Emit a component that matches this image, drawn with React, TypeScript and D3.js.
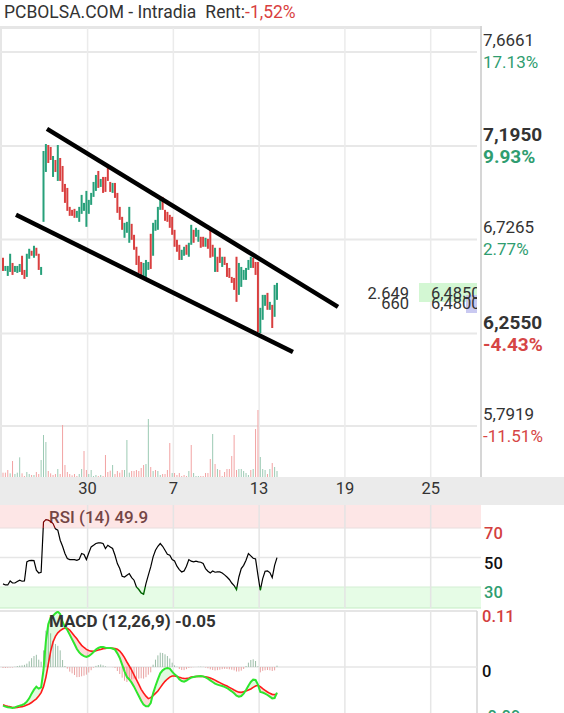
import React from 'react';
import * as d3 from 'd3';

const W = 564;
const H = 713;

// ---- price series (one bar per slot) ----
const opens = [
  6.635, 6.569, 6.544, 6.564, 6.609, 6.564, 6.559, 6.564, 6.645, 6.574,
  6.539, 6.630, 6.670, 6.635, 6.685, 6.655, 6.549, 6.815, 7.065, 7.200,
  7.190, 7.040, 7.125, 7.020, 7.135, 7.095, 7.005, 6.985, 6.890, 6.875,
  6.880, 6.835, 6.815, 6.855, 6.870, 6.790, 6.855, 6.900, 6.940, 6.970,
  7.070, 6.990, 7.040, 7.040, 7.105, 7.015, 6.960, 7.010, 6.960, 6.890,
  6.840, 6.735, 6.760, 6.710, 6.805, 6.750, 6.690, 6.645, 6.614, 6.534,
  6.539, 6.574, 6.755, 6.645, 6.770, 6.775, 6.875, 6.940, 6.875, 6.865,
  6.850, 6.840, 6.775, 6.725, 6.700, 6.624, 6.645, 6.700, 6.640, 6.700,
  6.775, 6.740, 6.715, 6.740, 6.740, 6.690, 6.730, 6.775, 6.700, 6.564,
  6.640, 6.685, 6.589, 6.640, 6.609, 6.584, 6.539, 6.534, 6.640, 6.449,
  6.489, 6.524, 6.524, 6.574, 6.584, 6.635, 6.614, 6.614, 6.258, 6.324,
  6.394, 6.459, 6.374, 6.399, 6.339, 6.424,
];
const closes = [
  6.569, 6.594, 6.594, 6.655, 6.549, 6.594, 6.594, 6.604, 6.549, 6.529,
  6.655, 6.680, 6.645, 6.695, 6.645, 6.574, 6.589, 7.170, 7.205, 7.110,
  7.125, 7.145, 7.065, 7.200, 7.020, 6.965, 6.910, 6.870, 6.845, 6.845,
  6.835, 6.870, 6.890, 6.950, 6.910, 6.970, 6.925, 6.960, 7.015, 7.050,
  6.985, 7.030, 6.960, 6.965, 7.020, 6.965, 7.010, 6.935, 6.860, 6.825,
  6.775, 6.810, 6.815, 6.890, 6.725, 6.675, 6.599, 6.559, 6.539, 6.609,
  6.624, 6.614, 6.579, 6.810, 6.825, 6.890, 6.925, 6.875, 6.820, 6.815,
  6.785, 6.750, 6.690, 6.665, 6.624, 6.675, 6.690, 6.650, 6.710, 6.800,
  6.710, 6.785, 6.775, 6.685, 6.690, 6.735, 6.680, 6.635, 6.640, 6.685,
  6.564, 6.609, 6.640, 6.599, 6.539, 6.534, 6.509, 6.474, 6.414, 6.609,
  6.589, 6.574, 6.584, 6.624, 6.640, 6.584, 6.549, 6.263, 6.384, 6.449,
  6.449, 6.374, 6.414, 6.283, 6.499, 6.509,
];

// ---- volume ----
const volumes = [
  1300, 1300, 2100, 1100, 4800, 900, 1300, 5900, 1100, 300,
  1500, 900, 600, 600, 1500, 900, 5100, 12600, 10500, 1800,
  1100, 600, 900, 2400, 900, 15600, 3600, 1500, 900, 500,
  900, 300, 900, 2400, 7800, 2100, 900, 2100, 300, 600,
  300, 600, 300, 6600, 1500, 1900, 3600, 900, 1800, 1300,
  2100, 2100, 11100, 1300, 1800, 1800, 2100, 1800, 2700, 3600,
  3900, 17400, 3000, 1800, 2100, 1800, 600, 900, 900, 2100,
  10200, 1200, 1200, 600, 1200, 300, 600, 300, 1800, 9600,
  1200, 300, 300, 300, 300, 1200, 1200, 5400, 12900, 3900,
  2400, 2100, 300, 1500, 2400, 2400, 6300, 12600, 2100, 2400,
  2400, 1800, 1200, 600, 2100, 2400, 14400, 20100, 6000, 2400,
  2100, 900, 2400, 4200, 3000, 1800,
];
const volUp = [
  0, 0, 0, 1, 0, 1, 1, 1, 0, 0,
  1, 1, 0, 1, 0, 0, 1, 1, 1, 0,
  0, 0, 0, 1, 0, 0, 0, 0, 0, 0,
  0, 0, 1, 1, 0, 0, 1, 1, 1, 1,
  0, 1, 0, 0, 0, 0, 1, 0, 0, 0,
  0, 1, 1, 1, 0, 0, 0, 0, 0, 0,
  1, 1, 0, 1, 0, 1, 1, 0, 0, 0,
  0, 1, 0, 0, 0, 0, 0, 0, 1, 0,
  1, 1, 1, 0, 0, 0, 0, 0, 1, 0,
  1, 0, 0, 0, 0, 0, 0, 0, 0, 1,
  1, 1, 1, 1, 0, 1, 0, 0, 1, 1,
  1, 0, 1, 0, 1, 1,
];

// ---- RSI (14) ----
const rsi = [
  32.1, 31.4, 31.4, 34.1, 32.7, 32.7, 33.7, 34.6, 33.9, 34.1,
  47.0, 47.9, 48.1, 47.9, 41.4, 39.5, 40.0, 74.1, 75.7, 75.3,
  74.4, 73.0, 69.4, 68.5, 61.7, 57.6, 52.7, 49.3, 48.6, 48.6,
  48.6, 48.1, 48.8, 52.7, 52.0, 48.6, 53.1, 57.2, 58.3, 59.5,
  59.9, 59.9, 59.5, 56.1, 58.3, 57.2, 56.1, 51.5, 45.9, 42.5,
  37.3, 36.8, 38.0, 39.1, 36.4, 34.6, 30.0, 28.3, 26.0, 25.1,
  32.3, 38.0, 43.6, 50.4, 54.9, 57.6, 59.5, 57.6, 54.9, 52.2,
  51.5, 48.6, 47.7, 44.1, 41.8, 40.2, 40.9, 44.1, 48.6, 47.5,
  47.0, 47.5, 47.0, 46.8, 45.9, 42.5, 40.7, 39.5, 40.9, 40.0,
  40.2, 40.2, 39.5, 38.2, 36.8, 35.1, 32.7, 31.0, 28.3, 36.8,
  42.5, 44.7, 48.1, 52.7, 51.1, 49.5, 49.0, 38.0, 27.8, 35.7,
  40.7, 40.9, 39.8, 36.4, 44.7, 49.9,
];

// ---- MACD (12,26,9) ----
const macd = [
  -0.0773, -0.0793, -0.0803, -0.081, -0.082, -0.0807, -0.0787, -0.0773, -0.076, -0.0737,
  -0.0693, -0.0627, -0.0533, -0.0453, -0.0393, -0.0433, -0.0407, -0.006, 0.052, 0.0853,
  0.0987, 0.1027, 0.1073, 0.1107, 0.106, 0.09, 0.08, 0.074, 0.0647, 0.0553,
  0.046, 0.036, 0.0293, 0.0247, 0.0217, 0.02, 0.022, 0.0253, 0.03, 0.035,
  0.038, 0.04, 0.04, 0.0387, 0.038, 0.038, 0.037, 0.0347, 0.0273, 0.018,
  0.0047, -0.0087, -0.02, -0.025, -0.0313, -0.0393, -0.0487, -0.058, -0.0673, -0.0753,
  -0.0787, -0.0787, -0.072, -0.0527, -0.038, -0.0247, -0.0127, -0.0067, -0.0033, -0.002,
  -0.0033, -0.0093, -0.0147, -0.0183, -0.0247, -0.028, -0.0293, -0.027, -0.024, -0.0213,
  -0.02, -0.019, -0.0183, -0.018, -0.0187, -0.0207, -0.0233, -0.0267, -0.03, -0.0333,
  -0.0353, -0.0367, -0.038, -0.0397, -0.042, -0.0453, -0.0487, -0.0527, -0.0573, -0.0593,
  -0.058, -0.0533, -0.046, -0.0373, -0.03, -0.0253, -0.026, -0.0353, -0.05, -0.051,
  -0.0533, -0.056, -0.0593, -0.0627, -0.062, -0.0513,
];
const signal = [
  -0.0753, -0.0773, -0.0787, -0.0797, -0.081, -0.0813, -0.0807, -0.08, -0.0793, -0.078,
  -0.076, -0.074, -0.071, -0.0673, -0.0637, -0.058, -0.0513, -0.0393, -0.0207, 0.0053,
  0.0313, 0.05, 0.0613, 0.0683, 0.0727, 0.076, 0.078, 0.0773, 0.074, 0.068,
  0.062, 0.0563, 0.0493, 0.0433, 0.039, 0.0353, 0.033, 0.0317, 0.0313, 0.0327,
  0.034, 0.035, 0.0367, 0.0373, 0.038, 0.038, 0.0373, 0.0367, 0.0353, 0.032,
  0.026, 0.0187, 0.01, 0.002, -0.0063, -0.016, -0.0253, -0.0347, -0.0447, -0.052,
  -0.0583, -0.0633, -0.0613, -0.0573, -0.0527, -0.048, -0.0413, -0.0347, -0.0287, -0.024,
  -0.0203, -0.018, -0.018, -0.019, -0.0207, -0.022, -0.023, -0.0227, -0.022, -0.0203,
  -0.0197, -0.019, -0.0187, -0.0187, -0.019, -0.0197, -0.0207, -0.022, -0.024, -0.0263,
  -0.029, -0.0313, -0.0337, -0.036, -0.038, -0.0407, -0.0433, -0.046, -0.0483, -0.0503,
  -0.0507, -0.0493, -0.048, -0.046, -0.044, -0.0407, -0.038, -0.0367, -0.0393, -0.0433,
  -0.0467, -0.05, -0.0527, -0.0547, -0.0553, -0.054,
];

// ---- axes / annotations ----
const priceTicks = [7.6661, 7.195, 6.7265, 6.255, 5.7919];
const boldTicks = [7.195, 6.255];
const refPrice = 6.545;
const dateTickSlots = [35.5, 71.5, 107.5, 143.5, 179.5];
const dateTickLabels = ['30', '7', '13', '19', '25'];
const channelUpper: [number, number][] = [[18.46, 7.281], [140.6, 6.389]];
const channelLower: [number, number][] = [[5.46, 6.85], [121.7, 6.163]];
const rsiTicks = [70, 50, 30];
const macdTicks = [0.11, 0, -0.09];
const titleText = 'PCBOLSA.COM - Intradia';
const rentLabel = 'Rent:';
const rentValue = '-1,52%';
const quoteVolumes = ['2.649', '660'];
const quotePrices = [6.485, 6.48];

const GREEN = '#27a07a';
const RED = '#d93f3f';
const FONT = 'Roboto, "Noto Sans", sans-serif';

export default function App() {
  const N = opens.length;
  const x = d3.scaleLinear().domain([0, N - 1]).range([3, 277]);
  const y = d3.scaleLinear().domain([5.7919, 7.6661]).range([426, 52]);
  const yVol = d3.scaleLinear().domain([0, d3.max(volumes) as number]).range([477, 410]);
  const yRsi = d3.scaleLinear().domain([30, 70]).range([587, 528]);
  const yMacd = d3.scaleLinear().domain([-0.09, 0.11]).range([712, 612]);

  const mainTop = 28, mainBottom = 477, plotRight = 477, axisX = 481;
  const rsiTop = 505, rsiBottom = 608;
  const macdTop = 611, macdBottom = 713;

  const fmtPrice = (p: number) => d3.format('.4f')(p).replace('.', ',');
  const fmtPct = (p: number) => ((p / refPrice - 1) * 100).toFixed(2) + '%';

  const rsiLine = d3.line<number>().x((_, i) => x(i)).y(d => yRsi(d))(rsi) || '';
  const macdLine = d3.line<number>().x((_, i) => x(i)).y(d => yMacd(d))(macd) || '';
  const sigLine = d3.line<number>().x((_, i) => x(i)).y(d => yMacd(d))(signal) || '';
  const idx = d3.range(N);
  const clipBelowMacd = d3.area<number>().x(i => x(i)).y0(macdBottom + 20).y1(i => yMacd(macd[i]))(idx) || '';
  const clipAboveMacd = d3.area<number>().x(i => x(i)).y0(macdTop - 20).y1(i => yMacd(macd[i]))(idx) || '';
  const sigToBottom = d3.area<number>().x(i => x(i)).y0(macdBottom + 20).y1(i => yMacd(signal[i]))(idx) || '';
  const sigToTop = d3.area<number>().x(i => x(i)).y0(macdTop - 20).y1(i => yMacd(signal[i]))(idx) || '';

  const lineStyleGrid = '#e8e8e8';

  return (
    <svg width={W} height={H} style={{ position: 'absolute', left: 0, top: 0, background: '#fff' }} fontFamily={FONT}>
      <defs>
        <clipPath id="rsiHigh"><rect x={0} y={rsiTop} width={axisX} height={yRsi(70) - rsiTop} /></clipPath>
        <clipPath id="rsiMid"><rect x={0} y={yRsi(70)} width={axisX} height={yRsi(30) - yRsi(70)} /></clipPath>
        <clipPath id="rsiLow"><rect x={0} y={yRsi(30)} width={axisX} height={rsiBottom - yRsi(30)} /></clipPath>
        <clipPath id="macdPanel"><rect x={0} y={macdTop} width={plotRight} height={macdBottom - macdTop} /></clipPath>
        <clipPath id="clipBelow"><path d={clipBelowMacd} /></clipPath>
        <clipPath id="clipAbove"><path d={clipAboveMacd} /></clipPath>
        <clipPath id="quoteClip"><rect x={0} y={0} width={plotRight} height={H} /></clipPath>
      </defs>
      <rect x={0} y={0} width={W} height={H} fill="#fff" />

      {/* main panel grid */}
      <rect x={0} y={mainTop - 2} width={axisX} height={3} fill="#e6e6e6" />
      <rect x={0} y={mainTop} width={2} height={mainBottom - mainTop} fill="#e6e6e6" />
      {priceTicks.map(t => (
        <line key={'hg' + t} x1={0} x2={plotRight} y1={y(t)} y2={y(t)} stroke={lineStyleGrid} strokeWidth={2} />
      ))}
      {dateTickSlots.map(s => (
        <line key={'vg' + s} x1={x(s)} x2={x(s)} y1={mainTop} y2={mainBottom} stroke="#ebebeb" strokeWidth={1.5} />
      ))}

      {/* volume */}
      {volumes.map((v, i) => (
        <rect key={'v' + i} x={x(i) - 0.5} y={yVol(v)} width={1} height={yVol(0) - yVol(v)}
          fill={volUp[i] ? '#9ccab4' : '#f2a3a3'} />
      ))}

      {/* candles */}
      {opens.map((o, i) => {
        const c = closes[i];
        const top = y(Math.max(o, c));
        const bot = y(Math.min(o, c));
        return <rect key={'c' + i} x={x(i) - 1} y={top} width={2} height={Math.max(1, bot - top)} fill={c >= o ? GREEN : RED} />;
      })}

      {/* channel */}
      {[channelUpper, channelLower].map((seg, k) => (
        <line key={'ch' + k} x1={x(seg[0][0])} y1={y(seg[0][1])} x2={x(seg[1][0])} y2={y(seg[1][1])}
          stroke="#000" strokeWidth={4.5} />
      ))}

      {/* right axis */}
      <rect x={axisX - 1} y={mainTop - 2} width={2} height={mainBottom - mainTop + 2} fill="#d6d6d6" />
      {priceTicks.map(t => {
        const bold = boldTicks.includes(t);
        const pctUp = t >= refPrice;
        return (
          <g key={'pl' + t}>
            <text x={axisX + 2} y={y(t) - (bold ? 5 : 6)} fontSize={bold ? 19 : 17} fontWeight={bold ? 'bold' : 'normal'} fill="#333">{fmtPrice(t)}</text>
            <text x={axisX + 2} y={y(t) + (bold ? 17 : 16)} fontSize={bold ? 19 : 17} fontWeight={bold ? 'bold' : 'normal'} fill={pctUp ? '#2f9d70' : '#d64545'}>{fmtPct(t)}</text>
          </g>
        );
      })}

      {/* quotes */}
      <g clipPath="url(#quoteClip)">
        <rect x={419} y={283} width={62} height={19} fill="#d3f7d3" />
        <rect x={466} y={295} width={15} height={18} fill="#c3c3f0" opacity={0.9} />
        {quotePrices.map((p, k) => (
          <text key={'qp' + k} x={431} y={299 + k * 10} fontSize={16.5} fill="#333">{fmtPrice(p)}</text>
        ))}
      </g>
      {quoteVolumes.map((v, k) => (
        <text key={'qv' + k} x={409} y={299 + k * 10} fontSize={16.5} fill="#333" textAnchor="end">{v}</text>
      ))}

      {/* x axis band */}
      <rect x={0} y={mainBottom} width={W} height={rsiTop - mainBottom} fill="#ebebeb" />
      {dateTickSlots.map((s, k) => (
        <text key={'dl' + k} x={x(s)} y={494} fontSize={16.5} fill="#333" textAnchor="middle">{dateTickLabels[k]}</text>
      ))}

      {/* RSI panel */}
      <rect x={0} y={rsiTop} width={axisX} height={yRsi(70) - rsiTop} fill="#fde6e6" />
      <rect x={0} y={yRsi(30)} width={axisX} height={rsiBottom - yRsi(30)} fill="#e6fce6" />
      <line x1={0} x2={axisX} y1={yRsi(70)} y2={yRsi(70)} stroke="#e8dede" strokeWidth={1} />
      <line x1={0} x2={axisX} y1={yRsi(50)} y2={yRsi(50)} stroke="#e6e6e6" strokeWidth={1.5} />
      <line x1={0} x2={axisX} y1={yRsi(30)} y2={yRsi(30)} stroke="#d3eed3" strokeWidth={1} />
      <line x1={0} x2={axisX} y1={rsiBottom} y2={rsiBottom} stroke="#c4ecc4" strokeWidth={1} />
      {dateTickSlots.map(s => (
        <line key={'rvg' + s} x1={x(s)} x2={x(s)} y1={rsiTop} y2={rsiBottom} stroke="#e4e4e4" strokeWidth={1.5} />
      ))}
      <text x={49} y={523} fontSize={17} fontWeight={500} fill="#744545">RSI (14) {rsi[N - 1].toFixed(1)}</text>
      <path d={rsiLine} fill="none" stroke="#000" strokeWidth={1.2} clipPath="url(#rsiMid)" />
      <path d={rsiLine} fill="none" stroke="#7a0000" strokeWidth={1.2} clipPath="url(#rsiHigh)" />
      <path d={rsiLine} fill="none" stroke="#006400" strokeWidth={1.4} clipPath="url(#rsiLow)" />
      {rsiTicks.map(t => (
        <text key={'rt' + t} x={484} y={yRsi(t) + 11} fontSize={16.5} fontWeight={500}
          fill={t === 70 ? '#d33f3f' : t === 30 ? '#2f9d70' : '#111'}>{t}</text>
      ))}

      {/* MACD panel */}
      <line x1={0} x2={plotRight} y1={macdTop} y2={macdTop} stroke="#dcdcdc" strokeWidth={1.5} />
      <line x1={plotRight} x2={plotRight} y1={macdTop} y2={macdBottom} stroke="#d4d4d4" strokeWidth={1.5} />
      <line x1={0} x2={plotRight} y1={yMacd(0)} y2={yMacd(0)} stroke="#e6e6e6" strokeWidth={1.5} />
      {dateTickSlots.map(s => (
        <line key={'mvg' + s} x1={x(s)} x2={x(s)} y1={macdTop} y2={macdBottom} stroke="#e6e6e6" strokeWidth={1.5} />
      ))}
      <g clipPath="url(#macdPanel)">
        {macd.map((m, i) => {
          const h = m - signal[i];
          const y0 = yMacd(0), y1 = yMacd(h);
          return <rect key={'h' + i} x={x(i) - 0.5} y={Math.min(y0, y1)} width={1} height={Math.abs(y1 - y0)}
            fill={h >= 0 ? '#9dbea9' : '#e9a3a3'} />;
        })}
        <path d={sigToBottom} fill="#ff4040" fillOpacity={0.2} clipPath="url(#clipAbove)" />
        <path d={sigToTop} fill="#33dd33" fillOpacity={0.15} clipPath="url(#clipBelow)" />
        <path d={sigLine} fill="none" stroke="#ff1a1a" strokeWidth={1.6} />
        <path d={macdLine} fill="none" stroke="#2ee62e" strokeWidth={2} />
      </g>
      <text x={49} y={627} fontSize={17} fontWeight="bold" fill="#333">MACD (12,26,9) {macd[N - 1].toFixed(2)}</text>
      {macdTicks.map(t => (
        <text key={'mt' + t} x={482} y={yMacd(t) + 10} fontSize={16.5} fontWeight={500}
          fill={t > 0 ? '#d33f3f' : t < 0 ? '#2f9d70' : '#111'}>{t === 0 ? '0' : t.toFixed(2)}</text>
      ))}

      {/* title */}
      <text x={4} y={18} fontSize={17.5} fill="#333">
        <tspan>{titleText}</tspan>
        <tspan dx={9}>{rentLabel}</tspan>
        <tspan fill="#d93f3f">{rentValue}</tspan>
      </text>
    </svg>
  );
}
